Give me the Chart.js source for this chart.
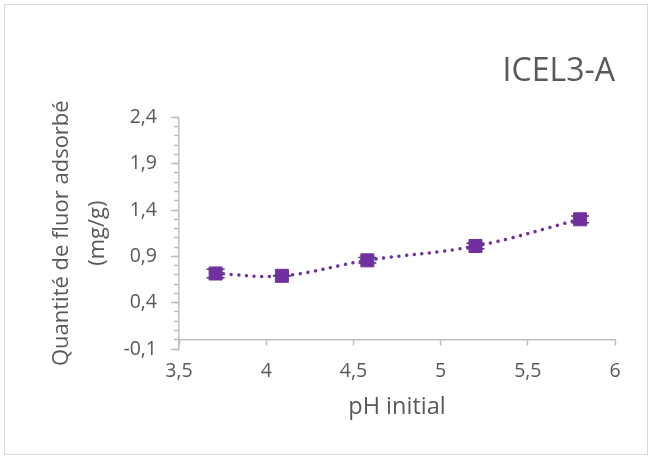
<!DOCTYPE html>
<html>
<head>
<meta charset="utf-8">
<script src="https://cdn.jsdelivr.net/npm/chart.js@4.4.1/dist/chart.umd.min.js"></script>
<style>
  html, body { margin: 0; padding: 0; background: #ffffff; }
  canvas { display: block; }
</style>
</head>
<body>
<canvas id="chart" width="652" height="459"></canvas>
<script>
// pH initial vs. quantity of fluoride adsorbed (ICEL3-A)
const phValues = [3.71, 4.09, 4.58, 5.20, 5.80];
const adsorbed = [0.715, 0.69, 0.857, 1.012, 1.30];
const errors   = [0.045, 0.003, 0.03, 0.03, 0.036];

const xTickValues = [3.5, 4, 4.5, 5, 5.5, 6];
const yMajorTicks = [-0.1, 0.4, 0.9, 1.4, 1.9, 2.4];

const chartTitle = 'ICEL3-A';
const xTitle = 'pH initial';
const yTitle = ['Quantité de fluor adsorbé', '(mg/g)'];

const PURPLE = '#7030A0';
const TEXT = '#595959';
const AXIS = '#BFBFBF';
const FONT = "'Open Sans', 'Noto Sans', sans-serif";

const fmt = v => String(Math.round(v * 100) / 100).replace('.', ',');
const isMajorY = v => yMajorTicks.some(t => Math.abs(t - v) < 1e-6);
const isXTick = v => xTickValues.some(t => Math.abs(t - v) < 1e-6);

// vertical error bars with caps, drawn beneath the line and markers
const errorBars = {
  id: 'errorBars',
  beforeDatasetsDraw(chart) {
    const { ctx, scales: { x, y } } = chart;
    ctx.save();
    ctx.strokeStyle = '#404040';
    ctx.lineWidth = 1.5;
    phValues.forEach((ph, i) => {
      const px = x.getPixelForValue(ph);
      const top = y.getPixelForValue(adsorbed[i] + errors[i]);
      const bot = y.getPixelForValue(adsorbed[i] - errors[i]);
      ctx.beginPath();
      ctx.moveTo(px, top); ctx.lineTo(px, bot);
      ctx.moveTo(px - 9, top); ctx.lineTo(px + 9, top);
      ctx.moveTo(px - 9, bot); ctx.lineTo(px + 9, bot);
      ctx.stroke();
    });
    ctx.restore();
  }
};

// thin frame around the chart
const frame = {
  id: 'frame',
  beforeDraw(chart) {
    const { ctx, width, height } = chart;
    ctx.save();
    ctx.fillStyle = '#ffffff';
    ctx.fillRect(0, 0, width, height);
    ctx.strokeStyle = '#D9D9D9';
    ctx.lineWidth = 1;
    ctx.strokeRect(4.5, 4.5, width - 9, height - 9);
    ctx.restore();
  }
};

new Chart(document.getElementById('chart'), {
  type: 'scatter',
  data: {
    datasets: [{
      data: phValues.map((ph, i) => ({ x: ph, y: adsorbed[i] })),
      showLine: true,
      tension: 0.4,
      borderColor: PURPLE,
      borderWidth: 3.5,
      borderDash: [0.01, 7.7],
      borderCapStyle: 'round',
      pointStyle: 'rect',
      pointRadius: 9.2,
      pointHoverRadius: 9.2,
      pointBackgroundColor: PURPLE,
      pointBorderColor: PURPLE,
      pointBorderWidth: 1
    }]
  },
  options: {
    responsive: false,
    animation: false,
    devicePixelRatio: 1,
    layout: { padding: { left: 44, right: 37, top: 0, bottom: 110 } },
    plugins: {
      legend: { display: false },
      tooltip: { enabled: false },
      title: {
        display: true,
        text: chartTitle,
        align: 'end',
        color: TEXT,
        font: { family: FONT, size: 32, weight: 'normal' },
        padding: { top: 53, bottom: 26 }
      }
    },
    scales: {
      x: {
        type: 'linear',
        position: { y: 0 },
        min: 3.5,
        max: 6,
        afterBuildTicks: s => { s.ticks = xTickValues.map(v => ({ value: v })); },
        ticks: {
          padding: 15,
          color: TEXT,
          font: { family: FONT, size: 19.5 },
          callback: v => isXTick(v) ? fmt(v) : ''
        },
        grid: { drawOnChartArea: false, tickLength: 5, tickColor: AXIS, tickWidth: 1.5 },
        border: { color: AXIS, width: 1.5 },
        title: {
          display: true,
          text: xTitle,
          color: TEXT,
          font: { family: FONT, size: 23.5 },
          padding: { top: -5, bottom: 0 }
        }
      },
      y: {
        type: 'linear',
        position: 'left',
        weight: 1,
        min: -0.1,
        max: 2.4,
        afterFit: s => { s.width = 135; },
        ticks: {
          stepSize: 0.1,
          autoSkip: false,
          padding: 14,
          color: TEXT,
          font: { family: FONT, size: 19.5 },
          callback: v => isMajorY(v) ? fmt(v) : ''
        },
        grid: {
          drawOnChartArea: false,
          tickLength: 8,
          tickWidth: 1.5,
          tickColor: c => isMajorY(c.tick.value) ? AXIS : 'rgba(0,0,0,0)'
        },
        border: { color: AXIS, width: 1.5 },
        title: {
          display: true,
          text: yTitle,
          color: TEXT,
          font: { family: FONT, size: 22, lineHeight: 1.64 },
          padding: { top: 0, bottom: 0 }
        }
      },
      yMinor: {
        type: 'linear',
        position: 'left',
        weight: 0,
        min: -0.1,
        max: 2.4,
        afterFit: s => { s.width = 0; },
        ticks: { display: false, stepSize: 0.1, autoSkip: false },
        grid: { drawOnChartArea: false, tickLength: 5, tickWidth: 1.5, tickColor: AXIS },
        border: { display: false }
      }
    }
  },
  plugins: [frame, errorBars]
});
</script>
</body>
</html>
